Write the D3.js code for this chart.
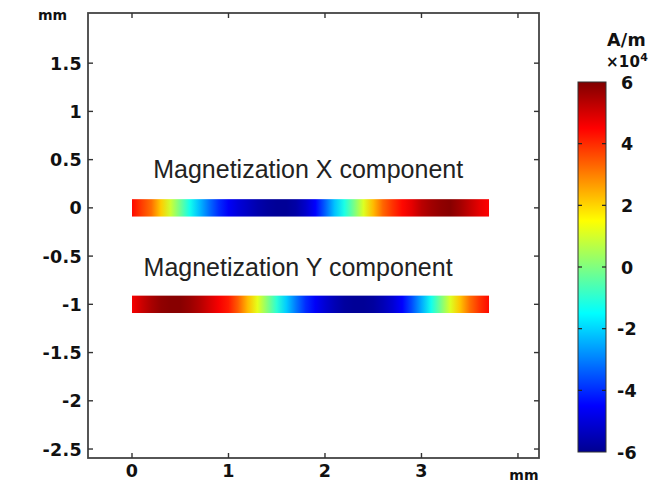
<!DOCTYPE html>
<html>
<head>
<meta charset="utf-8">
<script src="https://cdn.jsdelivr.net/npm/d3@7"></script>
<style>
  html, body { margin: 0; padding: 0; background: #fff; }
  svg { display: block; }
  .tick-lbl { font-family: "DejaVu Sans", sans-serif; font-weight: bold; font-size: 17.5px; fill: #111; letter-spacing: 0.3px; }
  .unit { font-family: "DejaVu Sans", sans-serif; font-weight: bold; font-size: 14px; fill: #111; }
  .note { font-family: "Liberation Sans", Arial, sans-serif; font-size: 25px; fill: #222; }
</style>
</head>
<body>
<svg id="chart" width="653" height="488"></svg>
<script>
// Sample positions along the strip (mm)
const positions = [0.0,0.1,0.2,0.3,0.4,0.5,0.6,0.7,0.8,0.9,1.0,1.1,1.2,1.3,1.4,1.5,1.6,1.7,1.8,1.9,
                   2.0,2.1,2.2,2.3,2.4,2.5,2.6,2.7,2.8,2.9,3.0,3.1,3.2,3.3,3.4,3.5,3.6,3.7];
// Magnetization X component (x10^4 A/m)
const magX = [4.4,3.8,3.2,2.1,0.9,-0.2,-1.3,-2.3,-3.2,-4.0,-4.6,-5.0,-5.3,-5.6,-5.8,-5.9,-5.9,-5.7,-5.2,-4.5,
              -3.4,-2.2,-1.2,-0.1,1.1,2.3,3.3,3.9,4.4,4.8,5.3,5.6,5.8,5.9,5.6,5.2,4.8,4.5];
// Magnetization Y component (x10^4 A/m)
const magY = [4.6,5.1,5.5,5.8,5.9,5.9,5.7,5.4,5.0,4.6,4.2,3.4,2.3,1.2,0.1,-1.0,-2.1,-3.1,-4.0,-4.6,
              -5.1,-5.5,-5.8,-5.9,-5.9,-5.8,-5.5,-5.1,-4.5,-3.6,-2.5,-1.3,-0.1,1.1,2.2,3.2,3.9,4.4];
// Strip centre lines (mm) and labels
const stripY = [0, -1];
const stripLabels = ["Magnetization X component", "Magnetization Y component"];
// Axis ticks
const xTicks = [0, 1, 2, 3, 4];
const xTickLabels = ["0", "1", "2", "3", "mm"];
const yTicks = [2, 1.5, 1, 0.5, 0, -0.5, -1, -1.5, -2, -2.5];
const yTickLabels = ["mm", "1.5", "1", "0.5", "0", "-0.5", "-1", "-1.5", "-2", "-2.5"];
// Colour bar
const cbarTicks = [6, 4, 2, 0, -2, -4, -6];
const cbarUnit = "A/m";

const svg = d3.select("#chart");

const x = d3.scaleLinear().domain([-0.456, 4.218]).range([88, 539]);
const y = d3.scaleLinear().domain([2.02, -2.593]).range([13, 458]);

// Jet colour map over -6..6
const jet = d3.scaleLinear()
  .domain([-6, -4.5, -1.5, 1.5, 4.5, 6])
  .range(["#000090", "#0000ff", "#00ffff", "#ffff00", "#ff0000", "#800000"])
  .clamp(true);

const defs = svg.append("defs");

// Strips
const series = [magX, magY];
const stripHalf = 0.09;
series.forEach((vals, i) => {
  const g = defs.append("linearGradient")
    .attr("id", "strip" + i)
    .attr("gradientUnits", "userSpaceOnUse")
    .attr("x1", x(positions[0])).attr("x2", x(positions[positions.length - 1]))
    .attr("y1", 0).attr("y2", 0);
  g.selectAll("stop").data(vals).enter().append("stop")
    .attr("offset", (d, j) => (positions[j] - positions[0]) / (positions[positions.length - 1] - positions[0]))
    .attr("stop-color", d => jet(d));
  svg.append("rect")
    .attr("x", x(positions[0]))
    .attr("width", x(positions[positions.length - 1]) - x(positions[0]))
    .attr("y", y(stripY[i] + stripHalf))
    .attr("height", y(stripY[i] - stripHalf) - y(stripY[i] + stripHalf))
    .attr("fill", "url(#strip" + i + ")");
});

// Strip labels
svg.append("text").attr("class", "note").attr("x", x(0.22)).attr("y", y(0.31)).text(stripLabels[0]);
svg.append("text").attr("class", "note").attr("x", x(0.12)).attr("y", y(-0.71)).text(stripLabels[1]);

// Frame
const [x0, x1] = x.range();
const [y0, y1] = y.range();
svg.append("rect").attr("x", x0).attr("y", y0).attr("width", x1 - x0).attr("height", y1 - y0)
  .attr("fill", "none").attr("stroke", "#444").attr("stroke-width", 1.8);

const tickLen = 5;
// X ticks (bottom and top, inward)
xTicks.forEach(t => {
  svg.append("line").attr("x1", x(t)).attr("x2", x(t)).attr("y1", y1).attr("y2", y1 - tickLen)
    .attr("stroke", "#333").attr("stroke-width", 1.4);
  svg.append("line").attr("x1", x(t)).attr("x2", x(t)).attr("y1", y0).attr("y2", y0 + tickLen)
    .attr("stroke", "#333").attr("stroke-width", 1.4);
});
xTicks.forEach((t, i) => {
  const isUnit = xTickLabels[i] === "mm";
  svg.append("text").attr("class", isUnit ? "unit" : "tick-lbl")
    .attr("x", x(t) + (isUnit ? 6 : 0)).attr("y", isUnit ? 480 : 477)
    .attr("text-anchor", "middle").text(xTickLabels[i]);
});
// Y ticks (left and right, inward)
yTicks.forEach(t => {
  if (t < 2) {
    svg.append("line").attr("x1", x0).attr("x2", x0 + tickLen).attr("y1", y(t)).attr("y2", y(t))
      .attr("stroke", "#333").attr("stroke-width", 1.4);
    svg.append("line").attr("x1", x1).attr("x2", x1 - tickLen).attr("y1", y(t)).attr("y2", y(t))
      .attr("stroke", "#333").attr("stroke-width", 1.4);
  }
});
yTicks.forEach((t, i) => {
  const isUnit = yTickLabels[i] === "mm";
  svg.append("text").attr("class", isUnit ? "unit" : "tick-lbl")
    .attr("x", isUnit ? 38 : 82).attr("y", isUnit ? 20 : y(t) + 6.5)
    .attr("text-anchor", isUnit ? "start" : "end").text(yTickLabels[i]);
});

// Colour bar
const cy = d3.scaleLinear().domain([-6, 6]).range([452, 82]);
const cbx = 578, cbw = 28;
const cg = defs.append("linearGradient").attr("id", "cbar")
  .attr("x1", 0).attr("x2", 0).attr("y1", 1).attr("y2", 0);
const cbStops = d3.range(-6, 6.01, 0.25);
cg.selectAll("stop").data(cbStops).enter().append("stop")
  .attr("offset", d => (d + 6) / 12).attr("stop-color", d => jet(d));
svg.append("rect").attr("x", cbx).attr("y", cy(6)).attr("width", cbw).attr("height", cy(-6) - cy(6))
  .attr("fill", "url(#cbar)").attr("stroke", "#333").attr("stroke-width", 1);
cbarTicks.forEach(t => {
  if (t !== 6 && t !== -6) {
    svg.append("line").attr("x1", cbx).attr("x2", cbx + 4).attr("y1", cy(t)).attr("y2", cy(t))
      .attr("stroke", "#222").attr("stroke-width", 1.2);
    svg.append("line").attr("x1", cbx + cbw).attr("x2", cbx + cbw - 4).attr("y1", cy(t)).attr("y2", cy(t))
      .attr("stroke", "#222").attr("stroke-width", 1.2);
  }
  svg.append("text").attr("class", "tick-lbl").attr("x", t < 0 ? 617 : 621).attr("y", cy(t) + 6.5)
    .text(t < 0 ? "-" + Math.abs(t) : String(t));
});
svg.append("text").attr("class", "tick-lbl").attr("x", 607).attr("y", 46).text(cbarUnit);
const mult = svg.append("text").attr("class", "tick-lbl").attr("x", 606).attr("y", 67)
  .style("font-size", "15px");
mult.append("tspan").text("\u00d710");
mult.append("tspan").attr("dy", -6).attr("font-size", 11).text("4");
</script>
</body>
</html>
